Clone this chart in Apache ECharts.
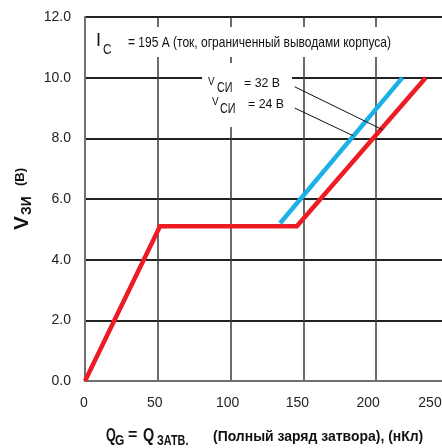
<!DOCTYPE html>
<html>
<head>
<meta charset="utf-8">
<script src="https://cdn.jsdelivr.net/npm/echarts@6/dist/echarts.min.js"></script>
<style>
  html, body { margin: 0; padding: 0; background: #fff; }
  #main { width: 442px; height: 448px; }
</style>
</head>
<body>
<div id="main"></div>
<script>
    // данные графика (заряд затвора, нКл -> напряжение затвор-исток, В)
    var xTicks = [0, 50, 100, 150, 200, 250];
    var redQ = [0, 51.5, 145.5, 234];
    var redV = [0, 5.1, 5.1, 10.0];
    var blueQ = [134, 218];
    var blueV = [5.2, 10.0];
    // выноски к подписям V_СИ
    var lead32Q = [144, 204.5];
    var lead32V = [9.7, 8.28];
    var lead24Q = [144, 184];
    var lead24V = [9.0, 8.09];

    // подписи по оси X в оригинале чуть сдвинуты влево от линий сетки
    var xLabelPad = [2, 6, 6, 12, 16, 38];

    function pairs(xs, ys) {
        var res = [];
        for (var i = 0; i < xs.length; i++) {
            res.push([xs[i], ys[i]]);
        }
        return res;
    }

    var FONT = "'Liberation Sans', Arial, sans-serif";

    // кусочек текста для graphic
    function txt(s, x, y, size, bold, sx, rot) {
        return {
            type: 'text',
            x: x, y: y,
            scaleX: sx || 1,
            rotation: rot || 0,
            z: 20,
            style: {
                text: s,
                font: (bold ? 'bold ' : '') + size + 'px ' + FONT,
                fill: '#111',
                align: 'left',
                verticalAlign: 'middle'
            }
        };
    }

    var R = Math.PI / 2;

    var xRich = {};
    for (var k = 0; k < xTicks.length; k++) {
        xRich['t' + k] = { fontSize: 14, fontFamily: FONT, color: '#222', padding: [0, xLabelPad[k], 0, 0] };
    }

    var myChart = echarts.init(document.getElementById('main'));

    var option = {
        animation: false,
        grid: { left: 85, top: 17, width: 364, height: 364, outerBoundsMode: 'none', containLabel: false },
        xAxis: {
            type: 'value',
            min: 0, max: 250, interval: 50,
            axisLine: { lineStyle: { color: '#707070', width: 2 } },
            axisTick: { show: false },
            splitLine: { lineStyle: { color: ['#707070', '#3a3a3a', '#3a3a3a', '#3a3a3a', '#3a3a3a', '#3a3a3a'], width: 1.5 } },
            axisLabel: {
                margin: 15,
                color: '#222',
                fontSize: 14,
                fontFamily: FONT,
                formatter: function (v) {
                    var i = xTicks.indexOf(v);
                    return '{t' + i + '|' + v + '}';
                },
                rich: xRich
            }
        },
        yAxis: {
            type: 'value',
            min: 0, max: 12, interval: 2,
            axisLine: { show: true, lineStyle: { color: '#707070', width: 2 } },
            axisTick: { show: false },
            splitLine: { lineStyle: { color: ['#707070', '#222', '#222', '#222', '#222', '#222', '#222'], width: 2 } },
            axisLabel: {
                margin: 14,
                color: '#222',
                fontSize: 14,
                fontFamily: FONT,
                formatter: function (v) { return v.toFixed(1); }
            }
        },
        graphic: [
            // белые подложки под надписями
            { type: 'rect', z: 10, shape: { x: 90, y: 27, width: 312, height: 30 }, style: { fill: '#fff' } },
            { type: 'rect', z: 10, shape: { x: 202, y: 63, width: 90, height: 64 }, style: { fill: '#fff' } },

            txt('I', 96, 41, 18, false),
            txt('C', 103, 50.5, 14, false, 0.85),
            txt('= 195 A (ток, ограниченный выводами корпуса)', 128, 43, 15, false, 0.8),

            txt('V', 208, 81.5, 11, false, 0.9),
            txt('СИ', 217, 88, 15, false, 0.72),
            txt('= 32 В', 244, 83, 13, false, 0.95),
            txt('V', 212, 101.5, 11, false, 0.9),
            txt('СИ', 220, 108.5, 15, false, 0.72),
            txt('= 24 В', 248, 104, 13, false, 0.95),

            txt('Q', 106, 436, 18, true, 0.7),
            txt('G', 115, 440.5, 15, true, 0.8),
            txt('=', 128, 436, 16, true, 1),
            txt('Q', 143, 436, 18, true, 0.8),
            txt('ЗАТВ.', 157, 440.5, 15, true, 0.72),
            txt('(Полный заряд затвора), (нКл)', 213, 436.5, 15, true, 0.93),

            txt('V', 22.5, 230, 21, true, 1, R),
            txt('ЗИ', 27.5, 215, 14, true, 1, R),
            txt(',', 19, 201, 13, true, 1, R),
            txt('(B)', 20, 186, 13, true, 1, R)
        ],
        series: [
            {
                name: 'V_СИ = 24 В',
                type: 'line',
                symbol: 'none',
                lineStyle: { color: '#ed1c24', width: 4.5, join: 'miter' },
                data: pairs(redQ, redV),
                z: 4
            },
            {
                name: 'V_СИ = 32 В',
                type: 'line',
                symbol: 'none',
                lineStyle: { color: '#1cb0e6', width: 4.5 },
                data: pairs(blueQ, blueV),
                z: 4
            },
            {
                name: 'выноска 32',
                type: 'line',
                symbol: 'none',
                lineStyle: { color: '#111', width: 1 },
                data: pairs(lead32Q, lead32V),
                z: 5
            },
            {
                name: 'выноска 24',
                type: 'line',
                symbol: 'none',
                lineStyle: { color: '#111', width: 1 },
                data: pairs(lead24Q, lead24V),
                z: 5
            }
        ]
    };

    myChart.setOption(option);
</script>
</body>
</html>
